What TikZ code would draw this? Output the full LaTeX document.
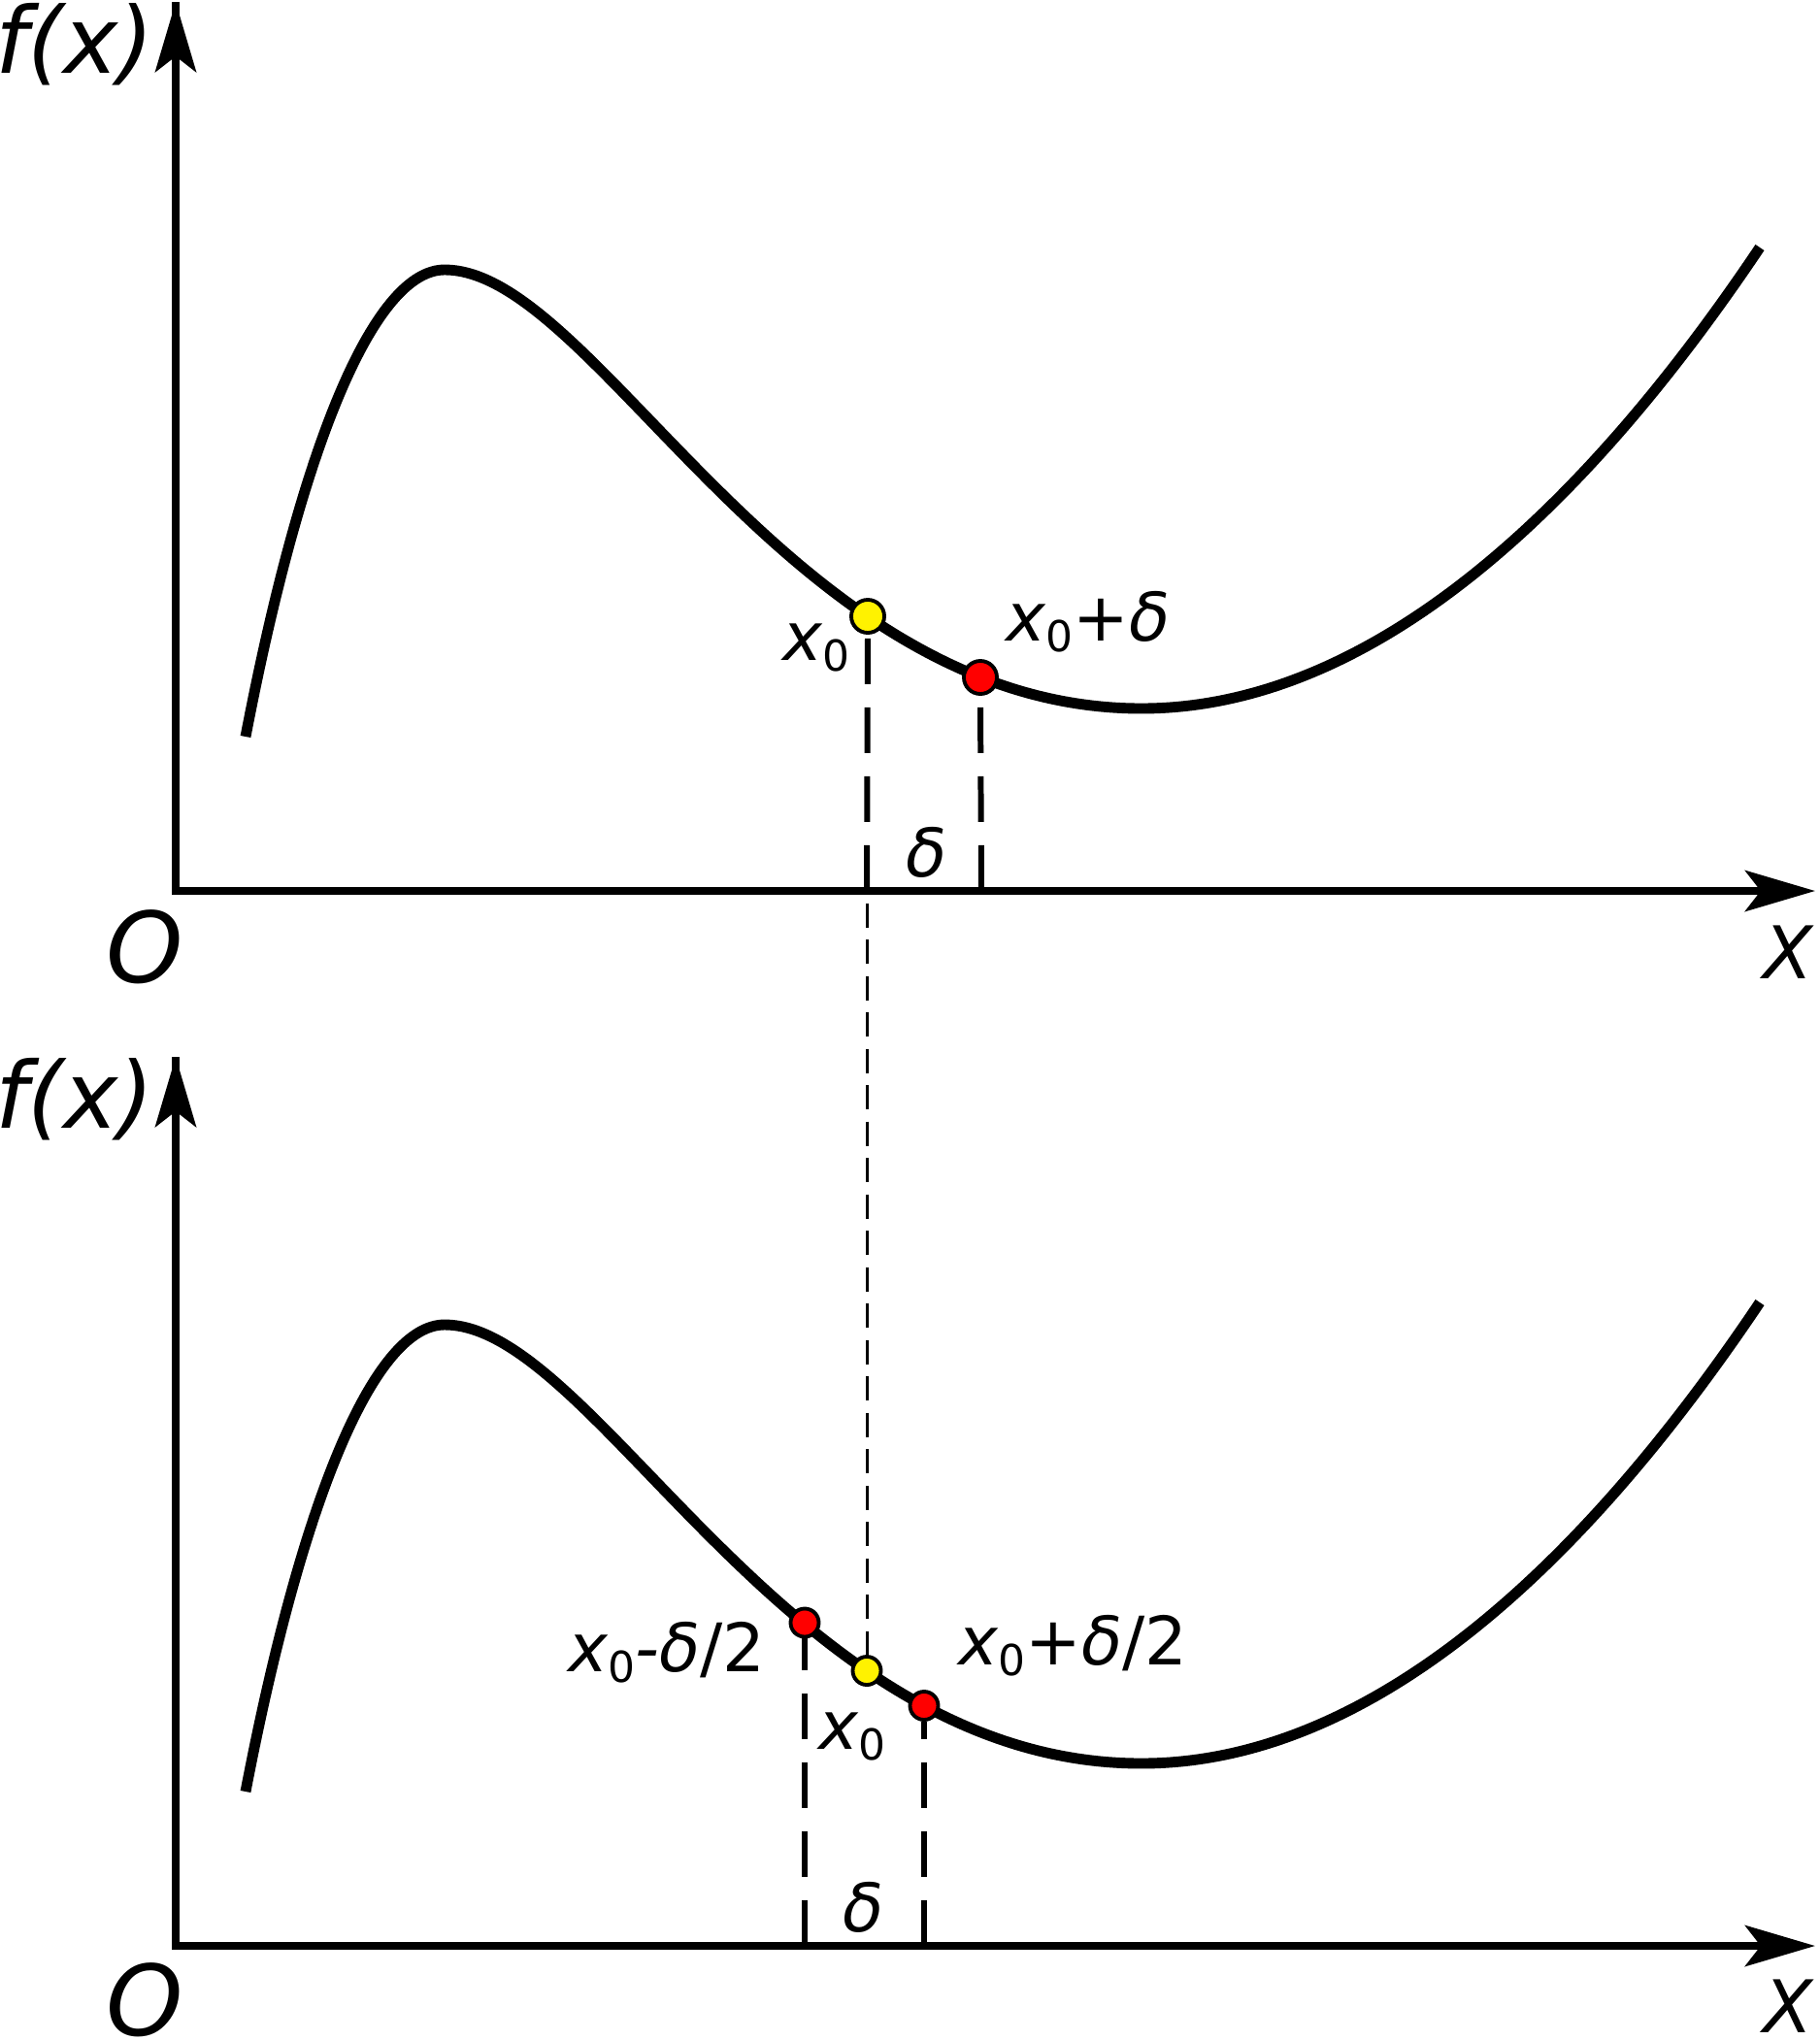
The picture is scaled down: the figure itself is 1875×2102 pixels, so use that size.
\documentclass[tikz,border=0pt]{standalone}
\usepackage{fontspec}
\setmainfont{DejaVu Sans}
\usetikzlibrary{arrows.meta}
\begin{document}
\begin{tikzpicture}[x=0.01cm,y=-0.01cm,
  axis/.style={line width=2.3pt,-{Stealth[length=0.72cm,width=0.42cm,inset=0.16cm]}},
  curve/.style={line width=3.1pt},
  guide/.style={line width=1.7pt,dash pattern=on 0.47cm off 0.24cm},
  thinguide/.style={line width=0.85pt,dash pattern=on 0.25cm off 0.125cm,dash phase=0.25cm},
  dotbig/.style={circle,draw=black,line width=1.1pt,inner sep=0,minimum size=0.34cm},
  dotsmall/.style={circle,draw=black,line width=1.1pt,inner sep=0,minimum size=0.29cm},
  yel/.style={fill=yellow},
  rd/.style={fill=red},
  lbl/.style={inner sep=0,anchor=base,font=\fontsize{19.6}{22}\selectfont\itshape},
  big/.style={inner sep=0,anchor=base,font=\fontsize{27}{30}\selectfont\itshape},
  bigO/.style={inner sep=0,anchor=base,font=\fontsize{28.7}{32}\selectfont\itshape},
  bigX/.style={inner sep=0,anchor=base,font=\fontsize{21.3}{24}\selectfont\itshape}]
\newcommand{\xsub}{x\raisebox{-0.17em}{\fontsize{12.5}{14}\selectfont\upshape 0}}
\useasboundingbox (0,0) rectangle (1875,2102);

% ---------- curves (same shape in both panels) ----------
\foreach \dy in {0,1087}{
\draw[curve,shift={(0,\dy)}]
(253,759) .. controls (313,447) and (388,278) .. (458,278)
          .. controls (615,278) and (811,730) .. (1176,730)
          .. controls (1388,730) and (1605,565) .. (1813,255);
}

% ---------- top panel ----------
\coordinate (o1) at (181,918);
\coordinate (yt1) at (181,2);
\coordinate (xt1) at (1870,918);
\draw[axis,line join=miter] (yt1) -- (o1) -- (xt1);
\draw[axis,{Stealth[length=0.72cm,width=0.42cm,inset=0.16cm]}-] (yt1) -- (o1);

\coordinate (a1) at (893,918);
\coordinate (b1) at (1011,918);
\node[dotbig,yel] (y1) at (894,635) {};
\node[dotbig,rd] (r1) at (1010,698) {};
\draw[guide] (a1) -- (y1.south);
\draw[guide] (b1) -- (r1.south);

\node[lbl] (lx1) at (841,680) {\xsub};
\node[lbl] (lxd1) at (1121,660) {\xsub{\upshape +}δ};
\node[lbl] (ld1) at (955,903) {δ};
\node[bigO] (O1) at (149,1012) {O};
\node[bigX] (X1) at (1842,1008) {X};
\node[big] (f1) at (77,75) {f(x)};

% ---------- bottom panel ----------
\coordinate (o2) at (181,2005);
\coordinate (yt2) at (181,1089);
\coordinate (xt2) at (1870,2005);
\draw[axis,line join=miter] (yt2) -- (o2) -- (xt2);
\draw[axis,{Stealth[length=0.72cm,width=0.42cm,inset=0.16cm]}-] (yt2) -- (o2);

\coordinate (a2) at (829,2005);
\coordinate (b2) at (952,2005);
\node[dotsmall,rd] (r2) at (829,1672) {};
\node[dotsmall,yel] (y2) at (893,1721.5) {};
\node[dotsmall,rd] (r3) at (952,1757.5) {};
\draw[guide] (a2) -- (r2.south);
\draw[guide] (b2) -- (r3.south);
\draw[thinguide] (a1) -- (y2.north);

\node[lbl] (lm2) at (687,1722) {\xsub-δ{\upshape /2}};
\node[lbl] (lx2) at (878,1802) {\xsub};
\node[lbl] (lp2) at (1105.5,1715) {\xsub{\upshape +}δ{\upshape /2}};
\node[lbl] (ld2) at (889.5,1990) {δ};
\node[bigO] (O2) at (149,2097) {O};
\node[bigX] (X2) at (1842,2094) {X};
\node[big] (f2) at (77,1162) {f(x)};
\end{tikzpicture}
\end{document}
